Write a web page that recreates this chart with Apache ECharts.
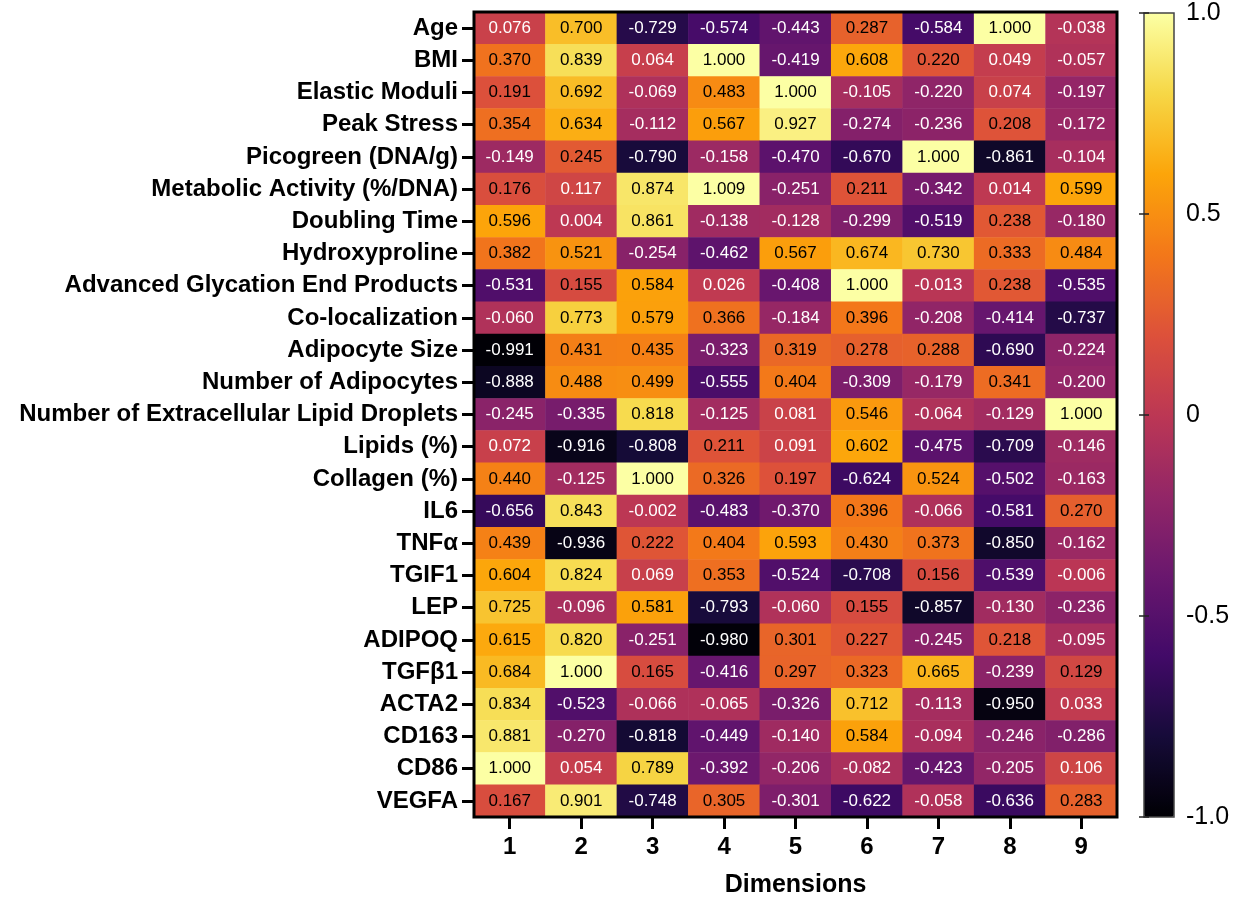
<!DOCTYPE html>
<html>
<head>
<meta charset="utf-8">
<script src="https://cdn.jsdelivr.net/npm/echarts@6/dist/echarts.min.js"></script>
<style>
html,body{margin:0;padding:0;background:#fff;}
#chart{width:1241px;height:898px;}
</style>
</head>
<body>
<div id="chart"></div>
<script>
// ---- Data ----
const dimensions = ['1','2','3','4','5','6','7','8','9'];
const rowLabels = [
  'Age','BMI','Elastic Moduli','Peak Stress','Picogreen (DNA/g)','Metabolic Activity (%/DNA)',
  'Doubling Time','Hydroxyproline','Advanced Glycation End Products','Co-localization',
  'Adipocyte Size','Number of Adipocytes','Number of Extracellular Lipid Droplets','Lipids (%)',
  'Collagen (%)','IL6','TNFα','TGIF1','LEP','ADIPOQ','TGFβ1','ACTA2','CD163','CD86','VEGFA'
];
const age            = [0.076, 0.700, -0.729, -0.574, -0.443, 0.287, -0.584, 1.000, -0.038];
const bmi            = [0.370, 0.839, 0.064, 1.000, -0.419, 0.608, 0.220, 0.049, -0.057];
const elasticModuli  = [0.191, 0.692, -0.069, 0.483, 1.000, -0.105, -0.220, 0.074, -0.197];
const peakStress     = [0.354, 0.634, -0.112, 0.567, 0.927, -0.274, -0.236, 0.208, -0.172];
const picogreen      = [-0.149, 0.245, -0.790, -0.158, -0.470, -0.670, 1.000, -0.861, -0.104];
const metabolic      = [0.176, 0.117, 0.874, 1.009, -0.251, 0.211, -0.342, 0.014, 0.599];
const doublingTime   = [0.596, 0.004, 0.861, -0.138, -0.128, -0.299, -0.519, 0.238, -0.180];
const hydroxyproline = [0.382, 0.521, -0.254, -0.462, 0.567, 0.674, 0.730, 0.333, 0.484];
const ageProducts    = [-0.531, 0.155, 0.584, 0.026, -0.408, 1.000, -0.013, 0.238, -0.535];
const coLocalization = [-0.060, 0.773, 0.579, 0.366, -0.184, 0.396, -0.208, -0.414, -0.737];
const adipocyteSize  = [-0.991, 0.431, 0.435, -0.323, 0.319, 0.278, 0.288, -0.690, -0.224];
const numAdipocytes  = [-0.888, 0.488, 0.499, -0.555, 0.404, -0.309, -0.179, 0.341, -0.200];
const numDroplets    = [-0.245, -0.335, 0.818, -0.125, 0.081, 0.546, -0.064, -0.129, 1.000];
const lipids         = [0.072, -0.916, -0.808, 0.211, 0.091, 0.602, -0.475, -0.709, -0.146];
const collagen       = [0.440, -0.125, 1.000, 0.326, 0.197, -0.624, 0.524, -0.502, -0.163];
const il6            = [-0.656, 0.843, -0.002, -0.483, -0.370, 0.396, -0.066, -0.581, 0.270];
const tnfa           = [0.439, -0.936, 0.222, 0.404, 0.593, 0.430, 0.373, -0.850, -0.162];
const tgif1          = [0.604, 0.824, 0.069, 0.353, -0.524, -0.708, 0.156, -0.539, -0.006];
const lep            = [0.725, -0.096, 0.581, -0.793, -0.060, 0.155, -0.857, -0.130, -0.236];
const adipoq         = [0.615, 0.820, -0.251, -0.980, 0.301, 0.227, -0.245, 0.218, -0.095];
const tgfb1          = [0.684, 1.000, 0.165, -0.416, 0.297, 0.323, 0.665, -0.239, 0.129];
const acta2          = [0.834, -0.523, -0.066, -0.065, -0.326, 0.712, -0.113, -0.950, 0.033];
const cd163          = [0.881, -0.270, -0.818, -0.449, -0.140, 0.584, -0.094, -0.246, -0.286];
const cd86           = [1.000, 0.054, 0.789, -0.392, -0.206, -0.082, -0.423, -0.205, 0.106];
const vegfa          = [0.167, 0.901, -0.748, 0.305, -0.301, -0.622, -0.058, -0.636, 0.283];
const rows = [age, bmi, elasticModuli, peakStress, picogreen, metabolic, doublingTime, hydroxyproline,
  ageProducts, coLocalization, adipocyteSize, numAdipocytes, numDroplets, lipids, collagen, il6, tnfa,
  tgif1, lep, adipoq, tgfb1, acta2, cd163, cd86, vegfa];
const colorbarTicks = { min: -1, max: 1, interval: 0.5 };

// ---- Styles ----
const FONT = '"Liberation Sans", Arial, Helvetica, sans-serif';
const inferno = ['#000004','#160b39','#420a68','#6a176e','#932667','#bc3754',
                 '#dd513a','#f37819','#fca50a','#f6d746','#fcffa4'];

const heatData = [];
rows.forEach((vals, r) => {
  vals.forEach((v, c) => {
    heatData.push({ value: [c, r, v], label: { color: v >= 0.12 ? '#000' : '#fff' } });
  });
});

const chart = echarts.init(document.getElementById('chart'), null, { renderer: 'canvas' });
chart.setOption({
  backgroundColor: '#fff',
  animation: false,
  textStyle: { fontFamily: FONT },
  grid: [
    { left: 474, top: 12, width: 643, height: 805, show: true, borderColor: '#000', borderWidth: 3,
      backgroundColor: 'transparent', z: 10, containLabel: false, outerBoundsMode: 'none' },
    { left: 1144, top: 13, width: 30, height: 804, show: true, borderColor: '#444', borderWidth: 1.5,
      backgroundColor: 'transparent', z: 10, containLabel: false, outerBoundsMode: 'none' }
  ],
  xAxis: [
    { type: 'category', gridIndex: 0, data: dimensions, position: 'bottom',
      axisLine: { show: false },
      axisTick: { show: true, alignWithLabel: true, length: 12, lineStyle: { color: '#000', width: 3 } },
      axisLabel: { fontSize: 24, fontWeight: 'bold', color: '#000', margin: 18, fontFamily: FONT },
      splitLine: { show: false },
      name: 'Dimensions', nameLocation: 'middle', nameGap: 56,
      nameTextStyle: { fontSize: 25, fontWeight: 'bold', color: '#000', fontFamily: FONT } },
    { type: 'value', gridIndex: 1, show: false, min: 0, max: 1 }
  ],
  yAxis: [
    { type: 'category', gridIndex: 0, data: rowLabels, inverse: true,
      axisLine: { show: false },
      axisTick: { show: true, alignWithLabel: true, length: 12, lineStyle: { color: '#000', width: 3 } },
      axisLabel: { fontSize: 24, fontWeight: 'bold', color: '#000', margin: 16, fontFamily: FONT },
      splitLine: { show: false } },
    { type: 'value', gridIndex: 1, position: 'right', z: 12, min: colorbarTicks.min, max: colorbarTicks.max,
      interval: colorbarTicks.interval,
      axisLine: { show: false },
      axisTick: { show: true, inside: true, length: 5, lineStyle: { color: '#222', width: 1.5 } },
      axisLabel: { fontSize: 25, color: '#000', margin: 12, fontFamily: FONT,
        formatter: v => (v === 1 ? '1.0' : v === -1 ? '-1.0' : String(v)) },
      splitLine: { show: false } },
    { type: 'value', gridIndex: 1, position: 'left', z: 12, min: colorbarTicks.min, max: colorbarTicks.max,
      interval: colorbarTicks.interval,
      axisLine: { show: false },
      axisTick: { show: true, inside: true, length: 5, lineStyle: { color: '#222', width: 1.5 } },
      axisLabel: { show: false },
      splitLine: { show: false } }
  ],
  visualMap: {
    type: 'continuous', min: -1, max: 1, calculable: false, orient: 'vertical',
    left: 1144, top: 13, itemWidth: 30, itemHeight: 804, padding: 0,
    text: null, showLabel: false, seriesIndex: 0,
    inRange: { color: inferno }
  },
  series: [{
    type: 'heatmap', xAxisIndex: 0, yAxisIndex: 0, data: heatData, z: 2,
    label: { show: true, fontSize: 17, fontFamily: FONT,
      formatter: p => p.value[2].toFixed(3) },
    itemStyle: { borderWidth: 0 },
    emphasis: { disabled: true }
  }]
});
</script>
</body>
</html>
